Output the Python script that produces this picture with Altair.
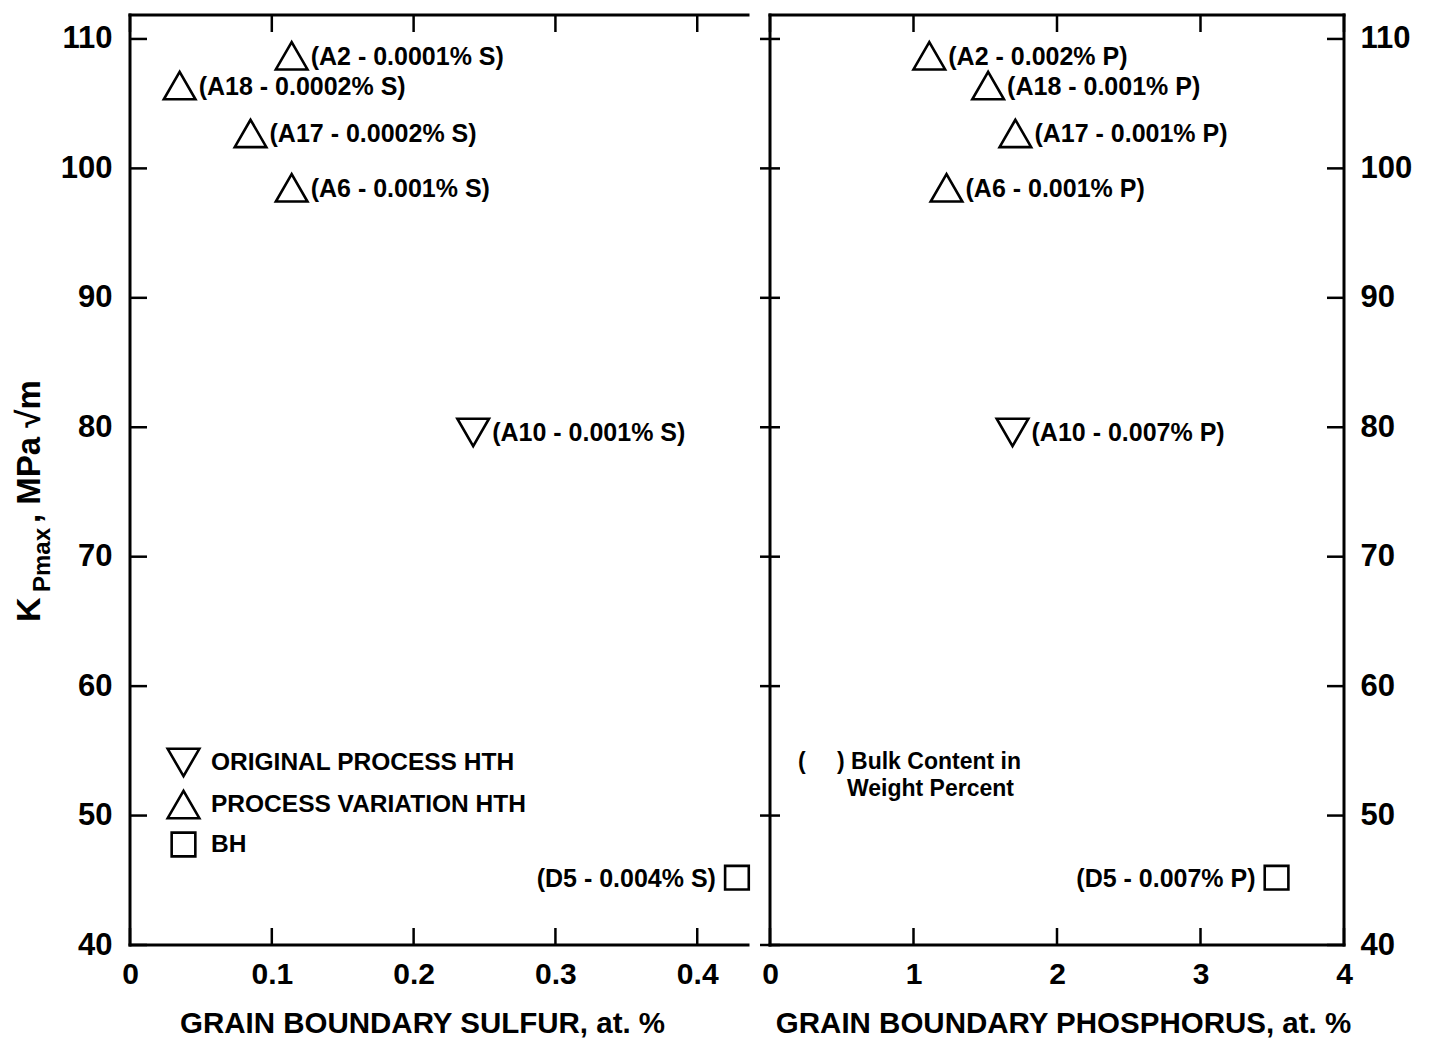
import altair as alt
import pandas as pd

# ---------------- data ----------------
alloys = ["A2", "A18", "A17", "A6", "A10", "D5"]
process = ["PROCESS VARIATION HTH", "PROCESS VARIATION HTH", "PROCESS VARIATION HTH",
           "PROCESS VARIATION HTH", "ORIGINAL PROCESS HTH", "BH"]
kp_max = [108.7, 106.4, 102.7, 98.5, 79.6, 45.2]
gb_sulfur = [0.114, 0.035, 0.085, 0.114, 0.242, 0.428]
gb_phosphorus = [1.11, 1.52, 1.71, 1.23, 1.69, 3.53]
bulk_sulfur = ["0.0001", "0.0002", "0.0002", "0.001", "0.001", "0.004"]
bulk_phosphorus = ["0.002", "0.001", "0.001", "0.001", "0.007", "0.007"]

legend_labels = ["ORIGINAL PROCESS HTH", "PROCESS VARIATION HTH", "BH"]
legend_shapes = ["triangle-down", "triangle-up", "square"]

y_ticks = [40, 50, 60, 70, 80, 90, 100, 110]
sulfur_ticks = [0, 0.1, 0.2, 0.3, 0.4]
phosphorus_ticks = [0, 1, 2, 3, 4]
y_domain = [40, 111.85]
sulfur_domain = [0, 0.4358]
phosphorus_domain = [0, 4]

df = pd.DataFrame({
    "alloy": alloys, "process": process, "kp": kp_max,
    "s": gb_sulfur, "p": gb_phosphorus,
    "bs": bulk_sulfur, "bp": bulk_phosphorus,
})
df["s_label"] = "(" + df["alloy"] + " - " + df["bs"] + "% S)"
df["p_label"] = "(" + df["alloy"] + " - " + df["bp"] + "% P)"
frame_df = pd.DataFrame({"frame": [1]})

# ---------------- style ----------------
FONT = "Liberation Sans"
H = 930
W1 = 618
W2 = 574
LW = 3
TW = 2.5
TICK = 17
TRI_SIZE = 1000
SQ_SIZE = 560


def rule(**enc):
    return alt.Chart(frame_df).mark_rule(color="black", strokeWidth=LW, strokeCap="square").encode(**enc)


def panel(xfield, xdomain, xvalues, xformat, xtitle, title_x, label_field, width, side):
    y_axis = alt.Axis(values=y_ticks, format="d", orient=side, ticks=False, tickSize=0,
                      domain=False, grid=False, title=None, labelFont=FONT, labelFontSize=31,
                      labelFontWeight="bold", labelColor="black",
                      labelPadding=18 if side == "left" else 16, labelOverlap=False)
    x_axis = alt.Axis(values=xvalues, format=xformat, ticks=False, tickSize=0, domain=False,
                      grid=False, title=xtitle, titleX=title_x, labelFont=FONT, labelFontSize=30,
                      labelFontWeight="bold", labelColor="black", labelPadding=14,
                      labelFlush=False, labelOverlap=False, titleFont=FONT,
                      titleFontSize=29.5, titleFontWeight="bold", titleColor="black",
                      titlePadding=20)
    x_enc = alt.X(f"{xfield}:Q", scale=alt.Scale(domain=xdomain, nice=False, zero=False), axis=x_axis)
    y_enc = alt.Y("kp:Q", scale=alt.Scale(domain=y_domain, nice=False, zero=False), axis=y_axis)

    shape_scale = alt.Scale(domain=legend_labels, range=legend_shapes)
    if side == "left":
        legend = alt.Legend(title=None, orient="none", legendX=36, legendY=730, direction="vertical",
                            labelFont=FONT, labelFontSize=24.5, labelFontWeight="bold",
                            labelColor="black", labelLimit=600, symbolStrokeColor="black",
                            symbolStrokeWidth=2.6,
                            symbolSize=alt.ExprRef(expr=f"datum.value == 'BH' ? {SQ_SIZE} : {TRI_SIZE}"),
                            rowPadding=3, labelOffset=10, padding=0)
    else:
        legend = None

    tri = alt.Chart(df).transform_filter(alt.datum.process != "BH").mark_point(
        filled=False, color="black", strokeWidth=2.6, opacity=1, size=TRI_SIZE
    ).encode(x=x_enc, y=y_enc, shape=alt.Shape("process:N", scale=shape_scale, legend=legend))
    sq = alt.Chart(df).transform_filter(alt.datum.process == "BH").mark_point(
        filled=False, color="black", strokeWidth=2.6, opacity=1, size=SQ_SIZE
    ).encode(x=x_enc, y=y_enc, shape=alt.Shape("process:N", scale=shape_scale, legend=legend))

    lab_l = alt.Chart(df).transform_filter(alt.datum.process != "BH").mark_text(
        align="left", baseline="middle", dx=19, dy=1, font=FONT, fontSize=25,
        fontWeight="bold", color="black"
    ).encode(x=x_enc, y=y_enc, text=f"{label_field}:N")
    lab_r = alt.Chart(df).transform_filter(alt.datum.process == "BH").mark_text(
        align="right", baseline="middle", dx=-21, dy=1, font=FONT, fontSize=25,
        fontWeight="bold", color="black"
    ).encode(x=x_enc, y=y_enc, text=f"{label_field}:N")

    yt = pd.DataFrame({"kp": y_ticks})
    xt = pd.DataFrame({xfield: xvalues})
    tick = dict(color="black", strokeWidth=TW)
    xt_bottom = alt.Chart(xt).mark_rule(**tick).encode(x=x_enc, y=alt.value(H), y2=alt.value(H - TICK))
    xt_top = alt.Chart(xt).mark_rule(**tick).encode(x=x_enc, y=alt.value(0), y2=alt.value(TICK))

    layers = [xt_bottom, xt_top]
    if side == "left":
        layers += [
            alt.Chart(yt).mark_rule(**tick).encode(y=y_enc, x=alt.value(0), x2=alt.value(TICK)),
            rule(x=alt.value(0), y=alt.value(0), y2=alt.value(H)),
            rule(x=alt.value(0), x2=alt.value(width), y=alt.value(0)),
            rule(x=alt.value(0), x2=alt.value(width), y=alt.value(H)),
            # y-axis title: K_Pmax , MPa sqrt(m)
            alt.Chart(frame_df).mark_text(text="K", angle=270, align="left", baseline="alphabetic",
                                          font=FONT, fontSize=34, fontWeight="bold", color="black"
                                          ).encode(x=alt.value(-90), y=alt.value(607)),
            alt.Chart(frame_df).mark_text(text="Pmax", angle=270, align="left", baseline="alphabetic",
                                          font=FONT, fontSize=24, fontWeight="bold", color="black"
                                          ).encode(x=alt.value(-80), y=alt.value(577)),
            alt.Chart(frame_df).mark_text(text=", MPa \u221am", angle=270, align="left",
                                          baseline="alphabetic", font=FONT, fontSize=33,
                                          fontWeight="bold", color="black"
                                          ).encode(x=alt.value(-90), y=alt.value(508)),
        ]
    else:
        layers += [
            alt.Chart(yt).mark_rule(**tick).encode(y=y_enc, x=alt.value(-10), x2=alt.value(10)),
            alt.Chart(yt).mark_rule(**tick).encode(y=y_enc, x=alt.value(width - TICK), x2=alt.value(width)),
            rule(x=alt.value(0), y=alt.value(0), y2=alt.value(H)),
            rule(x=alt.value(width), y=alt.value(0), y2=alt.value(H)),
            rule(x=alt.value(0), x2=alt.value(width), y=alt.value(0)),
            rule(x=alt.value(0), x2=alt.value(width), y=alt.value(H)),
            alt.Chart(frame_df).mark_text(text="(", align="left", baseline="middle", font=FONT,
                                          fontSize=23, fontWeight="bold", color="black"
                                          ).encode(x=alt.value(28), y=alt.value(747)),
            alt.Chart(frame_df).mark_text(text=") Bulk Content in", align="left", baseline="middle",
                                          font=FONT, fontSize=23, fontWeight="bold", color="black"
                                          ).encode(x=alt.value(67), y=alt.value(747)),
            alt.Chart(frame_df).mark_text(text="Weight Percent", align="left", baseline="middle",
                                          font=FONT, fontSize=23, fontWeight="bold", color="black"
                                          ).encode(x=alt.value(77), y=alt.value(774)),
        ]
    layers += [tri, sq, lab_l, lab_r]
    return alt.layer(*layers).properties(width=width, height=H)


left = panel("s", sulfur_domain, sulfur_ticks, ".1~f", "GRAIN BOUNDARY SULFUR, at. %", 292,
             "s_label", W1, "left")
right = panel("p", phosphorus_domain, phosphorus_ticks, "d", "GRAIN BOUNDARY PHOSPHORUS, at. %", 293,
              "p_label", W2, "right")

chart = alt.hconcat(left, right, spacing=4).resolve_scale(
    x="independent", y="independent", shape="independent"
).resolve_legend(shape="independent").configure_view(strokeWidth=0).properties(
    background="white", padding={"left": 5, "top": 4, "right": 5, "bottom": 0}
)

chart.save("out.html", embed_options={"renderer": "svg", "actions": False})
